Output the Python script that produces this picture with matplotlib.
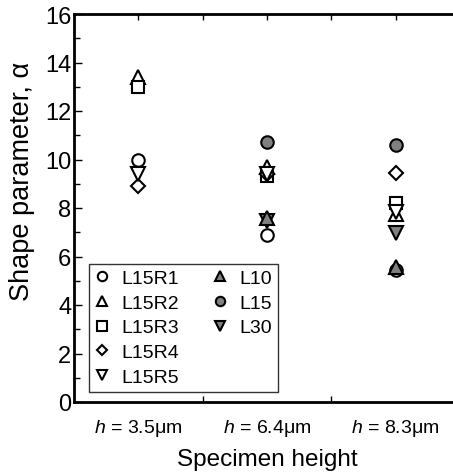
import matplotlib
matplotlib.use("Agg")
import matplotlib.pyplot as plt
from matplotlib.lines import Line2D
import numpy as np

plt.rcParams['font.family'] = ['Liberation Sans', 'DejaVu Sans']
plt.rcParams['mathtext.fontset'] = 'custom'
plt.rcParams['mathtext.it'] = 'Liberation Sans:italic'
plt.rcParams['mathtext.rm'] = 'Liberation Sans'

categories = ["$h$ = 3.5μm", "$h$ = 6.4μm", "$h$ = 8.3μm"]
series_names = ["L15R1", "L15R2", "L15R3", "L15R4", "L15R5", "L10", "L15", "L30"]
L15R1 = [10.0, 6.9, 5.45]
L15R2 = [13.4, 9.7, 7.75]
L15R3 = [13.0, 9.33, 8.22]
L15R4 = [8.9, 9.4, 9.45]
L15R5 = [9.4, 9.4, 7.85]
L10 = [np.nan, 7.6, 5.55]
L15 = [np.nan, 10.72, 10.6]
L30 = [np.nan, 7.45, 6.95]

values = [L15R1, L15R2, L15R3, L15R4, L15R5, L10, L15, L30]
markers = ['o', '^', 's', 'D', 'v', '^', 'o', 'v']
fills = ['white'] * 5 + ['#808080'] * 3
sizes = [9, 9.5, 9, 7, 9.5, 9.5, 9, 9.5]
zorders = [3, 3, 3, 3, 3, 4, 3, 3.5]

fig = plt.figure(figsize=(4.53, 4.77), dpi=100)
ax = fig.add_axes([74/453, 1 - 403/477, (460 - 74)/453, (403 - 15)/477])

x = np.arange(1, len(categories) + 1)
handles = []
for name, vals, m, fc, ms, z in zip(series_names, values, markers, fills, sizes, zorders):
    h, = ax.plot(x, vals, linestyle='none', marker=m, markersize=ms, markerfacecolor=fc,
                 markeredgecolor='black', markeredgewidth=1.5, label=name, zorder=z, clip_on=False)
    handles.append(h)

ax.set_xlim(0.5, 3.5)
ax.set_ylim(0, 16)
ax.set_xticks(x)
ax.set_xticklabels(categories, fontsize=14)
ax.set_xticks([1.5, 2.5], minor=True)
ax.set_yticks(np.arange(0, 17, 2))
ax.set_yticks(np.arange(1, 16, 2), minor=True)
ax.tick_params(axis='y', which='major', direction='in', length=6, width=1, labelsize=17, pad=2)
ax.tick_params(axis='y', which='minor', direction='in', length=4, width=1)
ax.tick_params(axis='x', which='major', direction='in', length=4, width=1, bottom=False, top=True, labelbottom=True, pad=11)
ax.tick_params(axis='x', which='minor', direction='in', length=4, width=1, bottom=True, top=True)

for s in ['left', 'top', 'bottom']:
    ax.spines[s].set_linewidth(2)
ax.spines['right'].set_visible(False)

ax.set_xlabel("Specimen height", fontsize=17.5, labelpad=7)
ax.set_ylabel("Shape parameter, α", fontsize=19.5)
ax.yaxis.set_label_coords(-0.10, 0.57)

blank = Line2D([], [], linestyle='none', marker=None)
leg_handles = handles[:5] + handles[5:] + [blank, blank]
leg_labels = series_names[:5] + series_names[5:] + ["", ""]
leg = ax.legend(leg_handles, leg_labels, ncol=2, loc='lower left',
                bbox_to_anchor=(0.038, 0.027), fontsize=14,
                frameon=True, fancybox=False, edgecolor='black', handlelength=0.8,
                handletextpad=0.6, columnspacing=1.7, labelspacing=0.36, borderpad=0.3,
                borderaxespad=0, markerscale=0.75)
leg.get_frame().set_linewidth(1)

fig.savefig("out.png", dpi=100)
